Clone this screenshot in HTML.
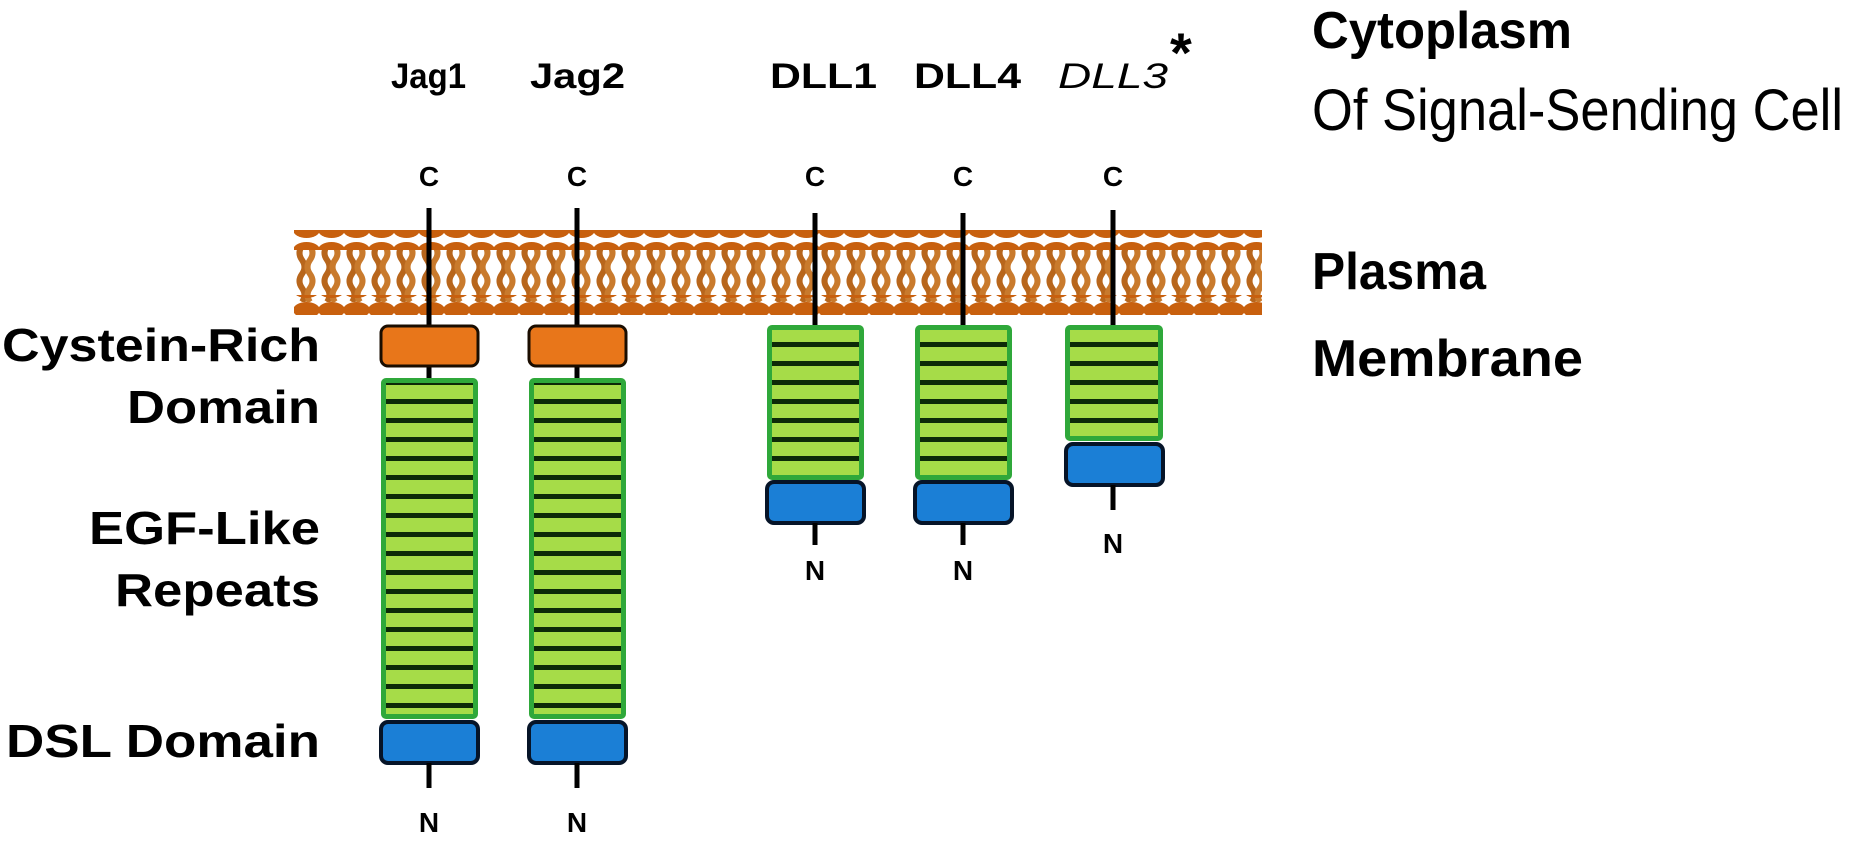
<!DOCTYPE html>
<html><head><meta charset="utf-8"><style>
html,body{margin:0;padding:0;background:#fff;}
svg{display:block}
text{font-family:"Liberation Sans",sans-serif;fill:#000}
</style></head><body>
<svg width="1858" height="846" viewBox="0 0 1858 846" xmlns="http://www.w3.org/2000/svg">
<defs>
<pattern id="tails" x="294" y="246" width="25" height="56" patternUnits="userSpaceOnUse">
  <path d="M8 0 q-5 7 0 14 q5 7 0 14 q-5 7 0 14 q5 7 0 14" stroke="#b8661c" stroke-width="6" fill="none"/>
  <path d="M16 0 q5 7 0 14 q-5 7 0 14 q5 7 0 14 q-5 7 0 14" stroke="#c97a2c" stroke-width="6" fill="none"/>
</pattern>
<pattern id="beads" x="294" y="0" width="25" height="20" patternUnits="userSpaceOnUse">
  <ellipse cx="12.5" cy="10" rx="13.5" ry="8" fill="#c8600e"/>
</pattern>
<pattern id="stripes" x="0" y="0" width="10" height="19" patternUnits="userSpaceOnUse">
  <rect width="10" height="19" fill="#a6dc48"/>
  <rect y="0" width="10" height="5" fill="#0d2a08"/>
</pattern>
</defs>

<!-- membrane -->
<rect x="294" y="246" width="968" height="56" fill="url(#tails)"/>
<rect x="294" y="230" width="968" height="20" fill="url(#beads)"/>
<rect x="294" y="295" width="968" height="20" fill="url(#beads)"/>

<!-- labels top -->
<text x="391" y="88" font-size="35" font-weight="bold" textLength="75" lengthAdjust="spacingAndGlyphs">Jag1</text>
<text x="530" y="88" font-size="35" font-weight="bold" textLength="95" lengthAdjust="spacingAndGlyphs">Jag2</text>
<text x="770" y="88" font-size="35" font-weight="bold" textLength="107" lengthAdjust="spacingAndGlyphs">DLL1</text>
<text x="914" y="88" font-size="35" font-weight="bold" textLength="107" lengthAdjust="spacingAndGlyphs">DLL4</text>
<text x="1058" y="88" font-size="35" font-style="italic" textLength="110" lengthAdjust="spacingAndGlyphs">DLL3</text>
<text x="1170" y="72" font-size="56" font-weight="bold">*</text>

<text x="1312" y="48" font-size="52" font-weight="bold" textLength="260" lengthAdjust="spacingAndGlyphs">Cytoplasm</text>
<text x="1312" y="130" font-size="58" textLength="531" lengthAdjust="spacingAndGlyphs">Of Signal-Sending Cell</text>
<text x="1312" y="289" font-size="52" font-weight="bold" textLength="174" lengthAdjust="spacingAndGlyphs">Plasma</text>
<text x="1312" y="376" font-size="52" font-weight="bold" textLength="271" lengthAdjust="spacingAndGlyphs">Membrane</text>

<text x="2" y="361" font-size="46" font-weight="bold" textLength="318" lengthAdjust="spacingAndGlyphs">Cystein-Rich</text>
<text x="127" y="423" font-size="46" font-weight="bold" textLength="193" lengthAdjust="spacingAndGlyphs">Domain</text>
<text x="89" y="544" font-size="46" font-weight="bold" textLength="231" lengthAdjust="spacingAndGlyphs">EGF-Like</text>
<text x="115" y="606" font-size="46" font-weight="bold" textLength="205" lengthAdjust="spacingAndGlyphs">Repeats</text>
<text x="6" y="757" font-size="46" font-weight="bold" textLength="314" lengthAdjust="spacingAndGlyphs">DSL Domain</text>

<!-- Jag1 -->
<g>
<text x="429" y="186" font-size="28" font-weight="bold" text-anchor="middle">C</text>
<line x1="429" y1="208" x2="429" y2="328" stroke="#000" stroke-width="5"/>
<line x1="429" y1="365" x2="429" y2="380" stroke="#000" stroke-width="5"/>
<rect x="381" y="326" width="97" height="40" rx="7" fill="#e8761a" stroke="#1a0d00" stroke-width="3"/>
<rect x="381" y="378" width="97" height="341" rx="5" fill="#2fa83a"/>
<rect x="386" y="383" width="87" height="331" fill="url(#stripes)"/>
<rect x="381" y="722" width="97" height="41" rx="7" fill="#1b7fd6" stroke="#061428" stroke-width="4"/>
<line x1="429" y1="763" x2="429" y2="788" stroke="#000" stroke-width="5"/>
<text x="429" y="832" font-size="28" font-weight="bold" text-anchor="middle">N</text>
</g>
<!-- Jag2 -->
<g>
<text x="577" y="186" font-size="28" font-weight="bold" text-anchor="middle">C</text>
<line x1="577" y1="208" x2="577" y2="328" stroke="#000" stroke-width="5"/>
<line x1="577" y1="365" x2="577" y2="380" stroke="#000" stroke-width="5"/>
<rect x="529" y="326" width="97" height="40" rx="7" fill="#e8761a" stroke="#1a0d00" stroke-width="3"/>
<rect x="529" y="378" width="97" height="341" rx="5" fill="#2fa83a"/>
<rect x="534" y="383" width="87" height="331" fill="url(#stripes)"/>
<rect x="529" y="722" width="97" height="41" rx="7" fill="#1b7fd6" stroke="#061428" stroke-width="4"/>
<line x1="577" y1="763" x2="577" y2="788" stroke="#000" stroke-width="5"/>
<text x="577" y="832" font-size="28" font-weight="bold" text-anchor="middle">N</text>
</g>
<!-- DLL1 -->
<g>
<text x="815" y="186" font-size="28" font-weight="bold" text-anchor="middle">C</text>
<line x1="815" y1="213" x2="815" y2="328" stroke="#000" stroke-width="5"/>
<rect x="767" y="325" width="97" height="155" rx="5" fill="#2fa83a"/>
<rect x="772" y="330" width="87" height="145" fill="url(#stripes)"/>
<rect x="767" y="482" width="97" height="41" rx="7" fill="#1b7fd6" stroke="#061428" stroke-width="4"/>
<line x1="815" y1="523" x2="815" y2="545" stroke="#000" stroke-width="5"/>
<text x="815" y="580" font-size="28" font-weight="bold" text-anchor="middle">N</text>
</g>
<!-- DLL4 -->
<g>
<text x="963" y="186" font-size="28" font-weight="bold" text-anchor="middle">C</text>
<line x1="963" y1="213" x2="963" y2="328" stroke="#000" stroke-width="5"/>
<rect x="915" y="325" width="97" height="155" rx="5" fill="#2fa83a"/>
<rect x="920" y="330" width="87" height="145" fill="url(#stripes)"/>
<rect x="915" y="482" width="97" height="41" rx="7" fill="#1b7fd6" stroke="#061428" stroke-width="4"/>
<line x1="963" y1="523" x2="963" y2="545" stroke="#000" stroke-width="5"/>
<text x="963" y="580" font-size="28" font-weight="bold" text-anchor="middle">N</text>
</g>
<!-- DLL3 -->
<g>
<text x="1113" y="186" font-size="28" font-weight="bold" text-anchor="middle">C</text>
<line x1="1113" y1="210" x2="1113" y2="328" stroke="#000" stroke-width="5"/>
<rect x="1065" y="325" width="98" height="116" rx="5" fill="#2fa83a"/>
<rect x="1070" y="330" width="88" height="106" fill="url(#stripes)"/>
<rect x="1066" y="444" width="97" height="41" rx="7" fill="#1b7fd6" stroke="#061428" stroke-width="4"/>
<line x1="1113" y1="485" x2="1113" y2="510" stroke="#000" stroke-width="5"/>
<text x="1113" y="553" font-size="28" font-weight="bold" text-anchor="middle">N</text>
</g>
</svg>
</body></html>
